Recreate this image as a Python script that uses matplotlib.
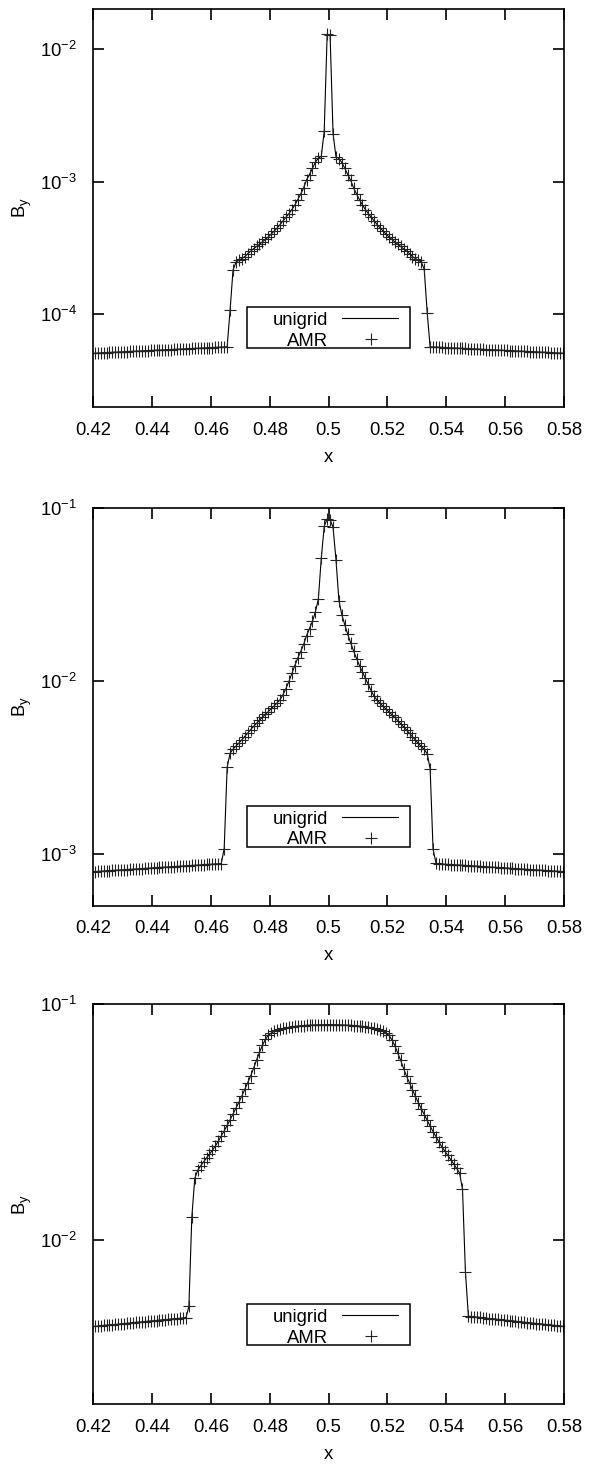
import numpy as np
import matplotlib
matplotlib.use('Agg')
import matplotlib.pyplot as plt
from matplotlib.ticker import LogLocator, NullLocator, FormatStrFormatter
from matplotlib.patches import Rectangle

plt.rcParams['font.family'] = ['Liberation Sans', 'DejaVu Sans']
plt.rcParams['mathtext.fontset'] = 'custom'
plt.rcParams['mathtext.rm'] = 'Liberation Sans'
plt.rcParams['mathtext.it'] = 'Liberation Sans:italic'
plt.rcParams['font.size'] = 13.3

# cell centres of the uniform mesh (dx = 0.001)
x_cells = np.arange(160) * 0.001 + 0.4205
x_ticks = [0.42, 0.44, 0.46, 0.48, 0.50, 0.52, 0.54, 0.56, 0.58]

# B_y profiles, one per output time
by_a = [
    5.09e-5, 5.10e-5, 5.11e-5, 5.13e-5, 5.14e-5, 5.15e-5, 5.17e-5, 5.18e-5, 5.19e-5, 5.20e-5,
    5.22e-5, 5.23e-5, 5.24e-5, 5.25e-5, 5.27e-5, 5.28e-5, 5.29e-5, 5.31e-5, 5.32e-5, 5.33e-5,
    5.34e-5, 5.36e-5, 5.37e-5, 5.38e-5, 5.40e-5, 5.41e-5, 5.42e-5, 5.44e-5, 5.45e-5, 5.46e-5,
    5.48e-5, 5.49e-5, 5.50e-5, 5.52e-5, 5.53e-5, 5.54e-5, 5.56e-5, 5.57e-5, 5.58e-5, 5.60e-5,
    5.61e-5, 5.63e-5, 5.64e-5, 5.65e-5, 5.67e-5, 5.68e-5,
    1.07e-4, 2.15e-4, 2.47e-4, 2.55e-4, 2.63e-4, 2.72e-4, 2.86e-4, 2.99e-4, 3.12e-4, 3.24e-4,
    3.37e-4, 3.51e-4, 3.66e-4, 3.83e-4, 4.02e-4, 4.24e-4, 4.47e-4, 4.74e-4, 5.05e-4, 5.38e-4,
    5.73e-4, 6.15e-4, 6.65e-4, 7.30e-4, 8.05e-4, 8.95e-4, 1.03e-3, 1.13e-3, 1.26e-3, 1.40e-3,
    1.50e-3, 1.55e-3, 2.40e-3, 1.29e-2,
    1.27e-2, 2.30e-3, 1.54e-3, 1.49e-3, 1.39e-3, 1.26e-3, 1.13e-3, 1.02e-3, 8.95e-4, 8.05e-4,
    7.30e-4, 6.65e-4, 6.15e-4, 5.73e-4, 5.38e-4, 5.05e-4, 4.74e-4, 4.47e-4, 4.24e-4, 4.02e-4,
    3.83e-4, 3.66e-4, 3.51e-4, 3.37e-4, 3.24e-4, 3.12e-4, 2.99e-4, 2.86e-4, 2.72e-4, 2.63e-4,
    2.55e-4, 2.47e-4, 2.18e-4, 1.03e-4, 5.68e-5,
    5.67e-5, 5.65e-5, 5.64e-5, 5.63e-5, 5.61e-5, 5.60e-5, 5.58e-5, 5.57e-5, 5.56e-5, 5.54e-5,
    5.53e-5, 5.52e-5, 5.50e-5, 5.49e-5, 5.48e-5, 5.46e-5, 5.45e-5, 5.44e-5, 5.42e-5, 5.41e-5,
    5.40e-5, 5.38e-5, 5.37e-5, 5.36e-5, 5.34e-5, 5.33e-5, 5.32e-5, 5.31e-5, 5.29e-5, 5.28e-5,
    5.27e-5, 5.25e-5, 5.24e-5, 5.23e-5, 5.22e-5, 5.20e-5, 5.19e-5, 5.18e-5, 5.17e-5, 5.15e-5,
    5.14e-5, 5.13e-5, 5.11e-5, 5.10e-5, 5.09e-5,
]

by_b = [
    7.87e-4, 7.89e-4, 7.91e-4, 7.93e-4, 7.95e-4, 7.97e-4, 7.99e-4, 8.01e-4, 8.03e-4, 8.05e-4,
    8.07e-4, 8.09e-4, 8.11e-4, 8.13e-4, 8.15e-4, 8.17e-4, 8.19e-4, 8.21e-4, 8.23e-4, 8.25e-4,
    8.27e-4, 8.29e-4, 8.31e-4, 8.33e-4, 8.35e-4, 8.37e-4, 8.39e-4, 8.41e-4, 8.44e-4, 8.46e-4,
    8.48e-4, 8.50e-4, 8.52e-4, 8.54e-4, 8.56e-4, 8.58e-4, 8.60e-4, 8.62e-4, 8.65e-4, 8.67e-4,
    8.69e-4, 8.71e-4, 8.73e-4, 8.75e-4,
    1.07e-3, 3.15e-3, 3.80e-3,
    4.02e-3, 4.18e-3, 4.35e-3, 4.55e-3, 4.75e-3, 4.97e-3, 5.20e-3, 5.44e-3, 5.66e-3, 5.90e-3,
    6.15e-3, 6.38e-3, 6.62e-3, 6.90e-3, 7.15e-3, 7.45e-3, 7.75e-3, 8.30e-3, 9.00e-3, 9.90e-3,
    1.10e-2, 1.22e-2, 1.35e-2, 1.47e-2, 1.62e-2, 1.82e-2, 2.00e-2, 2.20e-2, 2.50e-2, 2.95e-2,
    5.10e-2, 7.80e-2, 8.60e-2,
    8.50e-2, 7.70e-2, 5.00e-2, 2.90e-2, 2.40e-2, 2.10e-2, 1.85e-2, 1.65e-2, 1.48e-2, 1.34e-2,
    1.22e-2, 1.12e-2, 1.03e-2, 9.50e-3, 8.70e-3, 8.10e-3, 7.70e-3, 7.40e-3, 7.10e-3, 6.85e-3,
    6.60e-3, 6.35e-3, 6.12e-3, 5.88e-3, 5.64e-3, 5.42e-3, 5.18e-3, 4.95e-3, 4.73e-3, 4.53e-3,
    4.33e-3, 4.16e-3, 4.00e-3, 3.78e-3, 3.10e-3, 1.06e-3, 8.80e-4,
    8.72e-4, 8.70e-4, 8.68e-4, 8.66e-4, 8.64e-4, 8.62e-4, 8.60e-4, 8.58e-4, 8.56e-4, 8.54e-4,
    8.52e-4, 8.50e-4, 8.48e-4, 8.46e-4, 8.44e-4, 8.41e-4, 8.39e-4, 8.37e-4, 8.35e-4, 8.33e-4,
    8.31e-4, 8.29e-4, 8.27e-4, 8.25e-4, 8.23e-4, 8.21e-4, 8.19e-4, 8.17e-4, 8.15e-4, 8.13e-4,
    8.11e-4, 8.09e-4, 8.07e-4, 8.05e-4, 8.03e-4, 8.01e-4, 7.99e-4, 7.97e-4, 7.95e-4, 7.93e-4,
    7.91e-4, 7.89e-4, 7.87e-4,
]

by_c = [
    4.28e-3, 4.29e-3, 4.30e-3, 4.32e-3, 4.33e-3, 4.34e-3, 4.35e-3, 4.36e-3, 4.37e-3, 4.39e-3,
    4.40e-3, 4.41e-3, 4.42e-3, 4.44e-3, 4.45e-3, 4.46e-3, 4.47e-3, 4.48e-3, 4.50e-3, 4.51e-3,
    4.52e-3, 4.53e-3, 4.55e-3, 4.56e-3, 4.57e-3, 4.58e-3, 4.60e-3, 4.61e-3, 4.62e-3, 4.63e-3,
    4.65e-3, 4.66e-3,
    5.20e-3, 1.25e-2, 1.82e-2, 1.97e-2, 2.06e-2, 2.14e-2, 2.22e-2, 2.31e-2, 2.40e-2, 2.50e-2,
    2.62e-2, 2.76e-2, 2.90e-2, 3.06e-2, 3.23e-2, 3.42e-2, 3.62e-2, 3.84e-2, 4.08e-2, 4.35e-2,
    4.65e-2, 4.97e-2, 5.35e-2, 5.80e-2, 6.25e-2, 6.70e-2, 7.10e-2, 7.40e-2, 7.55e-2, 7.68e-2,
    7.77e-2, 7.84e-2, 7.90e-2, 7.95e-2, 7.99e-2, 8.03e-2, 8.06e-2, 8.09e-2, 8.11e-2, 8.13e-2,
    8.15e-2, 8.16e-2, 8.17e-2, 8.18e-2, 8.19e-2, 8.19e-2, 8.20e-2, 8.20e-2,
    8.20e-2, 8.20e-2, 8.19e-2, 8.19e-2, 8.18e-2, 8.17e-2, 8.16e-2, 8.15e-2, 8.13e-2, 8.11e-2,
    8.09e-2, 8.06e-2, 8.03e-2, 7.99e-2, 7.95e-2, 7.90e-2, 7.84e-2, 7.77e-2, 7.68e-2, 7.55e-2,
    7.38e-2, 7.08e-2, 6.68e-2, 6.22e-2, 5.78e-2, 5.33e-2, 4.95e-2, 4.63e-2, 4.33e-2, 4.06e-2,
    3.82e-2, 3.60e-2, 3.40e-2, 3.21e-2, 3.04e-2, 2.88e-2, 2.74e-2, 2.60e-2, 2.48e-2, 2.38e-2,
    2.28e-2, 2.19e-2, 2.10e-2, 2.01e-2, 1.92e-2, 1.64e-2, 7.30e-3, 4.73e-3,
    4.71e-3, 4.70e-3, 4.68e-3, 4.67e-3, 4.65e-3, 4.64e-3, 4.62e-3, 4.61e-3, 4.60e-3, 4.58e-3,
    4.57e-3, 4.55e-3, 4.54e-3, 4.53e-3, 4.51e-3, 4.50e-3, 4.48e-3, 4.47e-3, 4.46e-3, 4.44e-3,
    4.43e-3, 4.42e-3, 4.40e-3, 4.39e-3, 4.38e-3, 4.36e-3, 4.35e-3, 4.34e-3, 4.32e-3, 4.31e-3,
    4.30e-3, 4.28e-3,
]

series = [by_a, by_b, by_c]
y_ranges = [(2e-5, 2e-2), (5e-4, 1e-1), (2e-3, 1e-1)]
legend_labels = ['unigrid', 'AMR']

fig = plt.figure(figsize=(5.9, 14.65), dpi=100)
rects = [[0.1581, 0.7222, 0.7978, 0.2717],
         [0.1581, 0.3818, 0.7978, 0.2717],
         [0.1581, 0.0416, 0.7978, 0.2728]]

for rect, by, ylim in zip(rects, series, y_ranges):
    ax = fig.add_axes(rect)
    by = np.asarray(by)
    ax.plot(x_cells, by, '-', color='black', lw=0.8)
    ax.plot(x_cells, by, '+', color='#222222', ms=8, mew=0.8)

    ax.set_yscale('log')
    ax.set_xlim(0.42, 0.58)
    ax.set_ylim(*ylim)
    ax.set_xticks(x_ticks)
    ax.xaxis.set_major_formatter(FormatStrFormatter('%g'))
    ax.yaxis.set_major_locator(LogLocator(base=10, subs=(1.0,), numticks=10))
    ax.yaxis.set_minor_locator(NullLocator())
    ax.tick_params(which='major', direction='in', top=True, right=True,
                   length=7.7, width=1.2, labelsize=13.3)
    ax.tick_params(axis='x', pad=10.5)
    ax.tick_params(axis='y', pad=11.5)
    for s in ax.spines.values():
        s.set_linewidth(1.2)

    ax.set_xlabel('x')
    ax.xaxis.set_label_coords(0.5, -0.105)
    ax.set_ylabel(r'B$_\mathrm{y}$')
    ax.yaxis.set_label_coords(-0.125, 0.5)

    # key box, gnuplot style: right-aligned titles, sample on the right
    ax.add_patch(Rectangle((0.326, 0.148), 0.347, 0.102, transform=ax.transAxes,
                           fill=False, lw=1.1, color='black', zorder=5))
    ax.text(0.498, 0.206, legend_labels[0], transform=ax.transAxes,
            ha='right', va='baseline')
    ax.text(0.498, 0.154, legend_labels[1], transform=ax.transAxes,
            ha='right', va='baseline')
    ax.plot([0.528, 0.648], [0.223, 0.223], '-', color='black', lw=0.8,
            transform=ax.transAxes)
    ax.plot([0.589], [0.170], '+', color='#222222', ms=8, mew=0.8,
            transform=ax.transAxes)

fig.savefig('out.png', dpi=100)
